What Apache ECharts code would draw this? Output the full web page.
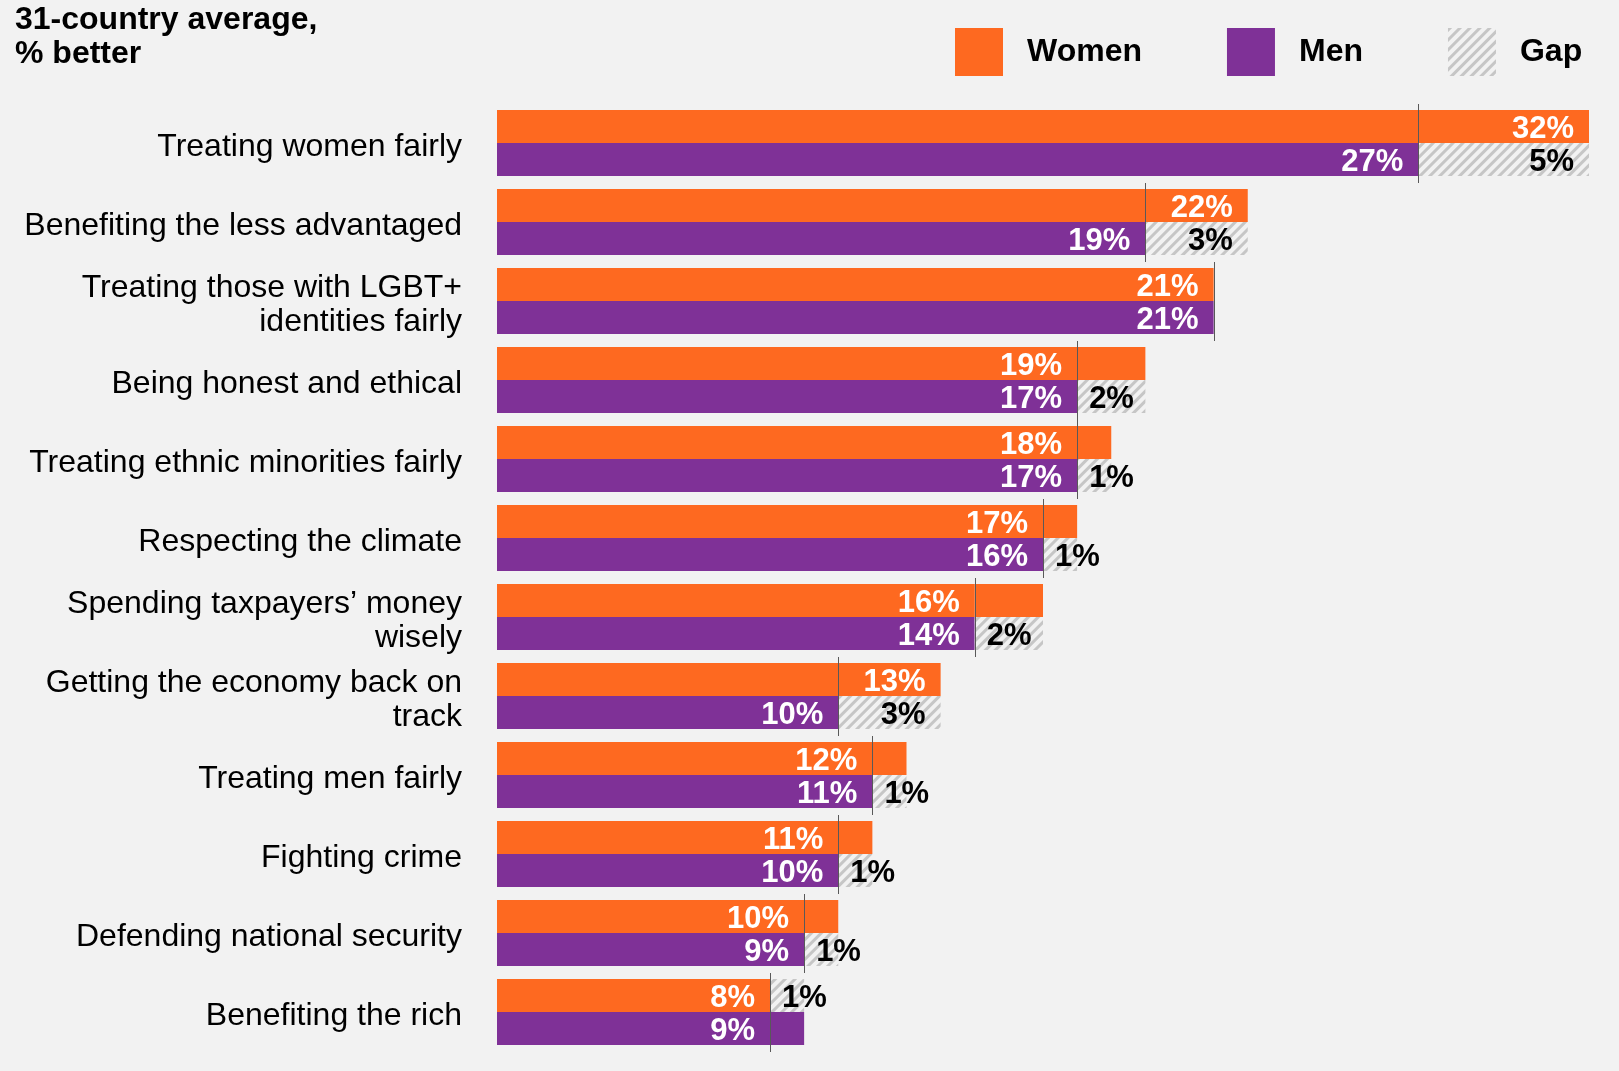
<!DOCTYPE html>
<html>
<head>
<meta charset="utf-8">
<title>31-country average, % better</title>
<script src="https://cdn.jsdelivr.net/npm/echarts@6/dist/echarts.min.js"></script>
<style>
    html, body { margin: 0; padding: 0; background: #f2f2f2; }
    #chart { width: 1619px; height: 1071px; }
</style>
</head>
<body>
<div id="chart"></div>
<script>
var categories = [
    'Treating women fairly',
    'Benefiting the less advantaged',
    'Treating those with LGBT+\nidentities fairly',
    'Being honest and ethical',
    'Treating ethnic minorities fairly',
    'Respecting the climate',
    'Spending taxpayers\u2019 money\nwisely',
    'Getting the economy back on\ntrack',
    'Treating men fairly',
    'Fighting crime',
    'Defending national security',
    'Benefiting the rich'
];
var women = [32, 22, 21, 19, 18, 17, 16, 13, 12, 11, 10, 8];
var men = [27, 19, 21, 17, 17, 16, 14, 10, 11, 10, 9, 9];

var ORANGE = '#fe6920';
var PURPLE = '#7f3197';
var BG = '#f2f2f2';
var FONT = '"Liberation Sans", Arial, sans-serif';
var BAR_W = 33;

var hatch = {
    color: BG,
    decal: {
        symbol: 'rect',
        symbolSize: 1,
        color: '#c6c6c6',
        dashArrayX: [1, 0],
        dashArrayY: [3, 4],
        rotation: -Math.PI / 4
    }
};

// segments for one gender: shared base, the solid rest, and the hatched gap to the other
function segments(own, other) {
    var base = [], rest = [], gap = [];
    own.forEach(function (v, i) {
        var b = Math.min(v, other[i]);
        var r = v - b;
        var g = Math.max(other[i] - v, 0);
        var onRest = r >= 3;
        base.push({ value: b, label: { show: !onRest, formatter: v + '%' } });
        rest.push({ value: r, label: { show: onRest, formatter: v + '%' } });
        gap.push({
            value: g,
            label: {
                show: g > 0,
                formatter: g + '%',
                position: g >= 3 ? 'insideRight' : 'insideLeft',
                distance: g >= 3 ? 15 : 12
            }
        });
    });
    return { base: base, rest: rest, gap: gap };
}

var valueLabel = {
    position: 'insideRight',
    distance: 15,
    offset: [0, 3],
    color: '#fff',
    fontFamily: FONT,
    fontSize: 31,
    fontWeight: 'bold'
};
var gapLabel = {
    offset: [0, 3],
    color: '#000',
    fontFamily: FONT,
    fontSize: 31,
    fontWeight: 'bold'
};

function barSeries(name, stack, data, itemStyle, label) {
    return {
        name: name,
        type: 'bar',
        stack: stack,
        barWidth: BAR_W,
        barGap: '0%',
        data: data,
        itemStyle: itemStyle,
        label: label,
        emphasis: { disabled: true }
    };
}

var w = segments(women, men);
var m = segments(men, women);

var lineData = women.map(function (v, i) {
    return [Math.min(v, men[i]), i];
});

var chart = echarts.init(document.getElementById('chart'));

var option = {
    backgroundColor: BG,
    animation: false,
    title: {
        text: '31-country average,\n% better',
        left: 15,
        top: 3,
        padding: 0,
        textStyle: {
            fontFamily: FONT,
            fontSize: 32,
            fontWeight: 'bold',
            color: '#000',
            lineHeight: 34
        }
    },
    legend: {
        data: ['Women', 'Men', 'Gap'],
        left: 955,
        top: 28,
        padding: 0,
        itemWidth: 48,
        itemHeight: 48,
        itemGap: 85,
        icon: 'rect',
        selectedMode: false,
        textStyle: {
            fontFamily: FONT,
            fontSize: 32,
            fontWeight: 'bold',
            color: '#000',
            padding: [6, 0, 0, 19]
        }
    },
    grid: {
        left: 497,
        right: 30,
        top: 103.5,
        bottom: 19.5
    },
    xAxis: {
        type: 'value',
        min: 0,
        max: 32,
        show: false
    },
    yAxis: {
        type: 'category',
        inverse: true,
        data: categories,
        axisLine: { show: false },
        axisTick: { show: false },
        axisLabel: {
            margin: 35,
            // a short empty first line nudges the label block down a little
            formatter: function (v) {
                return '{pad| }\n' + v.split('\n').map(function (s) {
                    return '{t|' + s + '}';
                }).join('\n');
            },
            rich: {
                pad: { fontSize: 1, lineHeight: 9, align: 'right' },
                t: {
                    fontFamily: FONT,
                    fontSize: 32,
                    lineHeight: 34,
                    color: '#000',
                    align: 'right'
                }
            }
        }
    },
    series: [
        barSeries('Women', 'w', w.base, { color: ORANGE }, valueLabel),
        barSeries('Women', 'w', w.rest, { color: ORANGE }, valueLabel),
        barSeries('Gap', 'w', w.gap, hatch, gapLabel),
        barSeries('Men', 'm', m.base, { color: PURPLE }, valueLabel),
        barSeries('Men', 'm', m.rest, { color: PURPLE }, valueLabel),
        barSeries('Gap', 'm', m.gap, hatch, gapLabel),
        {
            name: 'divider',
            type: 'custom',
            z: 5,
            silent: true,
            encode: { x: 0, y: 1 },
            data: lineData,
            renderItem: function (params, api) {
                var p = api.coord([api.value(0), api.value(1)]);
                var x = Math.round(p[0]) + 0.5;
                return {
                    type: 'line',
                    shape: { x1: x, y1: p[1] - BAR_W - 6, x2: x, y2: p[1] + BAR_W + 7 },
                    style: { stroke: '#595959', lineWidth: 1 }
                };
            }
        }
    ]
};

chart.setOption(option);

window.addEventListener('resize', function () {
    chart.resize();
});
</script>
</body>
</html>
